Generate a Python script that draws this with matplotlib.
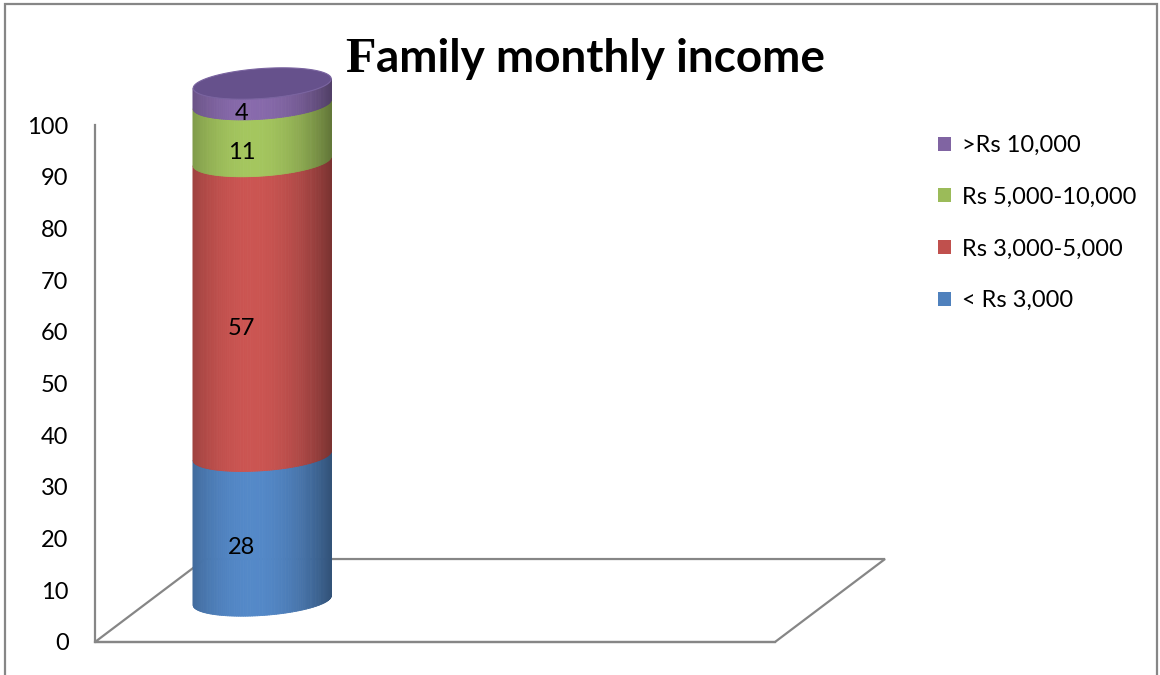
import matplotlib.pyplot as plt
import numpy as np
from matplotlib.collections import PolyCollection
from matplotlib.patches import Polygon, Rectangle, Patch

# income groups, bottom of the stack first
categories = ['< Rs 3,000', 'Rs 3,000-5,000', 'Rs 5,000-10,000', '>Rs 10,000']
shares = [28, 57, 11, 4]
colors = ['#4F81BD', '#C0504D', '#9BBB59', '#8064A2']
yticks = list(range(0, 101, 10))

plt.rcParams['font.family'] = ['Lato', 'DejaVu Sans']
GRID = '#868686'

W, H = 1160, 675
fig = plt.figure(figsize=(W / 100, H / 100), dpi=100)
fig.patch.set_facecolor('white')

# chart border (bottom edge falls outside the image)
fig.add_artist(Rectangle((5 / W, -0.05), 1152 / W, 1.05 - 4 / H, transform=fig.transFigure,
                         fill=False, edgecolor=GRID, linewidth=1.6))

ax = fig.add_axes([95 / W, 33 / H, 680 / W, 517 / H])
xlo, xhi = -0.5, 2.53
ax.set_xlim(xlo, xhi)
ax.set_ylim(0, 100)
ax.patch.set_alpha(0)

for side in ['top', 'right']:
    ax.spines[side].set_visible(False)
for side in ['left', 'bottom']:
    ax.spines[side].set_color(GRID)
    ax.spines[side].set_linewidth(1.6)
ax.set_xticks([])
ax.set_yticks(yticks)
ax.tick_params(axis='y', length=0, pad=19, labelsize=17)

# floor of the 3-D plot, depth given as a fraction of the axes
depth = (0.1618, 0.1605)
floor = Polygon([(0, 0), (1, 0), (1 + depth[0], depth[1]), (depth[0], depth[1])],
                closed=True, fill=False, edgecolor=GRID, linewidth=1.6,
                transform=ax.transAxes, clip_on=False, zorder=1)
ax.add_patch(floor)

# cylinder sits halfway back on the floor
dx = 0.5 * depth[0] * (xhi - xlo)
dy = 0.5 * depth[1] * 100
cx = 0 + dx
a = 0.3075     # half width, x units
b = 2.9        # ellipse half height, y units
c = 0.9        # perspective tilt of the ellipses


def shade(hex_color, u):
    rgb = np.array([int(hex_color[i:i + 2], 16) for i in (1, 3, 5)]) / 255
    f = 1.06 - 0.42 * ((u + 0.15) / 1.15) ** 2
    return np.clip(rgb * f, 0, 1)


def arc(t):
    return b * np.sin(t) + c * np.cos(t)


n = 90
t = np.linspace(np.pi, 2 * np.pi, n + 1)
xs = cx + a * np.cos(t)
tm = 0.5 * (t[:-1] + t[1:])
u = np.cos(tm)

base = 0
for val, col in zip(shares, colors):
    y0 = base + dy
    y1 = base + val + dy
    polys = [[(xs[i], y0 + arc(t[i])), (xs[i + 1], y0 + arc(t[i + 1])),
              (xs[i + 1], y1 + arc(t[i + 1])), (xs[i], y1 + arc(t[i]))] for i in range(n)]
    fc = [shade(col, uu) for uu in u]
    pc = PolyCollection(polys, facecolors=fc, edgecolors=fc, linewidths=0.6,
                        clip_on=False, zorder=3)
    ax.add_collection(pc)
    ax.text(cx - 0.3 * a, base + val / 2 + dy - b - 0.9, str(val), ha='center', va='center',
            fontsize=17, color='black', zorder=5, clip_on=False)
    base += val

# top cap
tt = np.linspace(0, 2 * np.pi, 200)
cap = Polygon(np.column_stack([cx + a * np.cos(tt), base + dy + arc(tt)]), closed=True,
              facecolor='#66518C', edgecolor='#7A64A0', linewidth=0.8, clip_on=False, zorder=4)
ax.add_patch(cap)

# legend, top entry is the top of the stack
handles = [Patch(facecolor=col, edgecolor='none') for col in colors][::-1]
fig.legend(handles, categories[::-1], loc='upper left',
           bbox_to_anchor=(938 / W, (H - 135) / H), frameon=False, fontsize=17,
           handlelength=0.55, handleheight=0.55, handletextpad=0.47,
           labelspacing=1.3, borderpad=0, borderaxespad=0)

# title: serif capital followed by sans text
t_f = fig.text(345 / W, (H - 72) / H, 'F', fontsize=36, fontweight='bold',
               family=['Liberation Serif'], va='baseline', ha='left')
fig.canvas.draw()
bb = t_f.get_window_extent()
fig.text(bb.x1 / W + 1 / W, (H - 72) / H, 'amily monthly income', fontsize=33,
         fontweight='bold', va='baseline', ha='left')

fig.savefig('out.png', dpi=100, facecolor='white')
